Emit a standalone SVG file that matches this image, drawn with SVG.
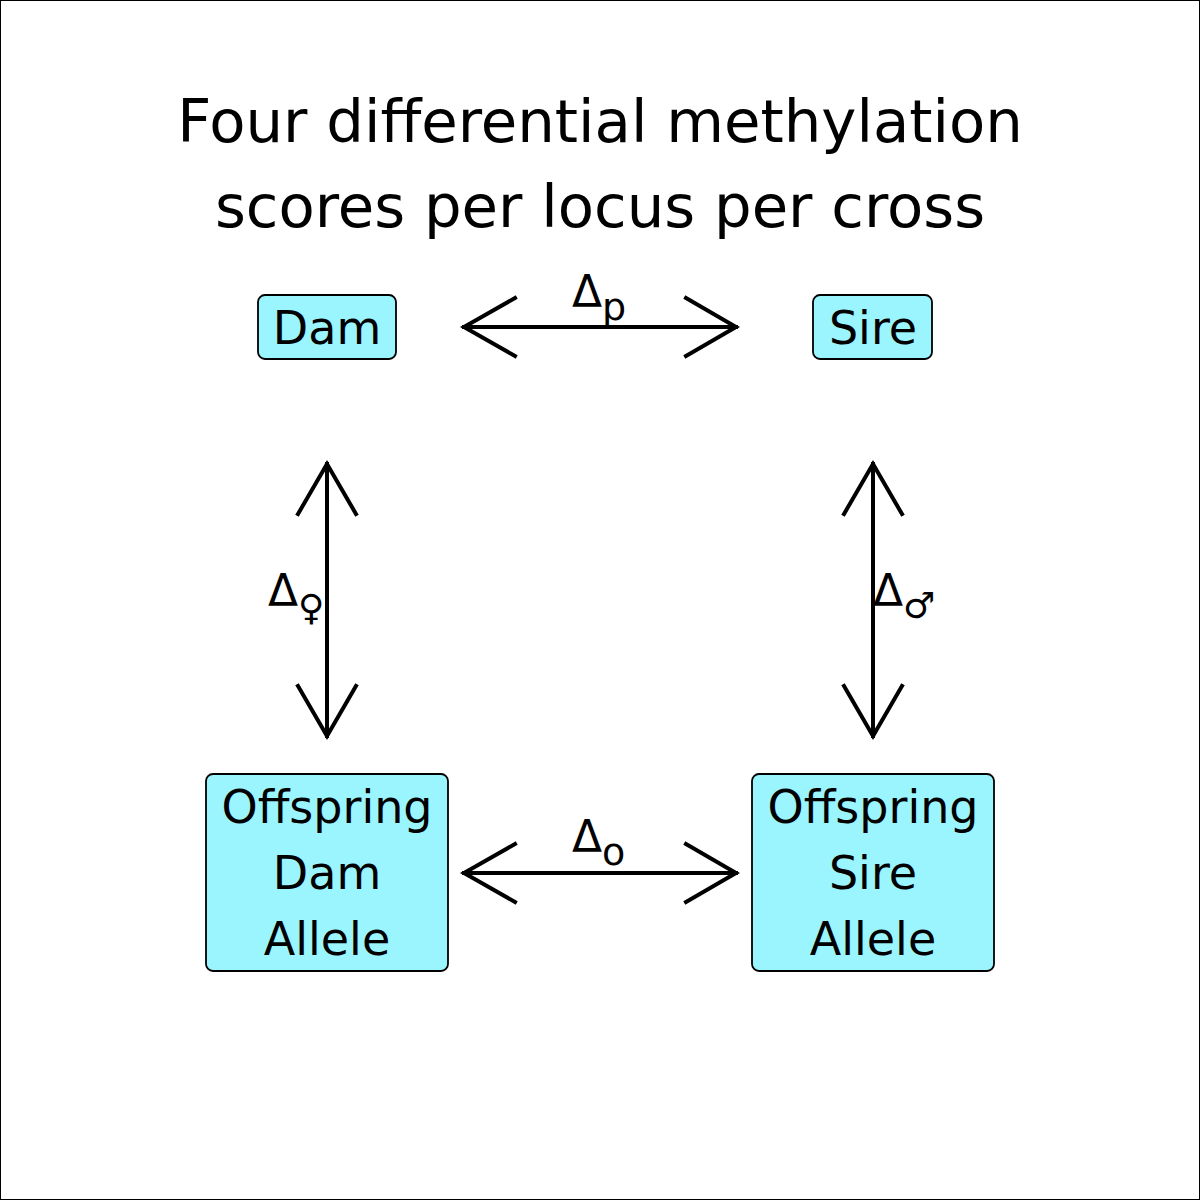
<svg xmlns="http://www.w3.org/2000/svg" width="1200" height="1200" viewBox="0 0 1200 1200">
<style>
text{font-family:"DejaVu Sans",sans-serif;fill:#000}
.t{font-size:59.3px;text-anchor:middle}
.n{font-size:46px;text-anchor:middle}
.box{fill:#9AF5FF;stroke:#000;stroke-width:1.8}
.c{fill:none;stroke:#000;stroke-width:4;stroke-linecap:square;stroke-linejoin:miter}
.l{font-size:44px}
.s{font-size:38px}
.g{font-size:36px}
</style>
<rect x="0.5" y="0.5" width="1199" height="1199" fill="#fff" stroke="#000" stroke-width="1"/>
<g id="title">
<text class="t" x="600" y="142">Four differential methylation</text>
<text class="t" x="600" y="227">scores per locus per cross</text>
</g>
<g id="dam">
<rect class="box" x="258" y="295" width="138" height="64" rx="7"/>
<text class="n" x="327" y="344">Dam</text>
</g>
<g id="sire">
<rect class="box" x="813" y="295" width="119" height="64" rx="7"/>
<text class="n" x="873" y="344">Sire</text>
</g>
<g id="offspring-dam">
<rect class="box" x="206" y="774" width="242" height="197" rx="7"/>
<text class="n" x="327" y="823">Offspring</text>
<text class="n" x="327" y="889">Dam</text>
<text class="n" x="327" y="955">Allele</text>
</g>
<g id="offspring-sire">
<rect class="box" x="752" y="774" width="242" height="197" rx="7"/>
<text class="n" x="873" y="823">Offspring</text>
<text class="n" x="873" y="889">Sire</text>
<text class="n" x="873" y="955">Allele</text>
</g>
<g id="connectors">
<path class="c" d="M464 327H736M515 298L464 327L515 356M686 298L736 327L686 356"/>
<path class="c" d="M464 873H736M515 844L464 873L515 902M686 844L736 873L686 902"/>
<path class="c" d="M327 464V736M298 514L327 464L356 514M298 686L327 736L356 686"/>
<path class="c" d="M873 464V736M844 514L873 464L902 514M844 686L873 736L902 686"/>
</g>
<g id="labels">
<text class="l" x="572" y="307">Δ<tspan class="s" dy="13">p</tspan></text>
<text class="l" x="572" y="852">Δ<tspan class="s" dy="13">o</tspan></text>
<text class="l" x="268" y="606">Δ<tspan class="g" dy="14">♀</tspan></text>
<text class="l" x="873" y="606">Δ<tspan class="g" dy="12">♂</tspan></text>
</g>
</svg>
